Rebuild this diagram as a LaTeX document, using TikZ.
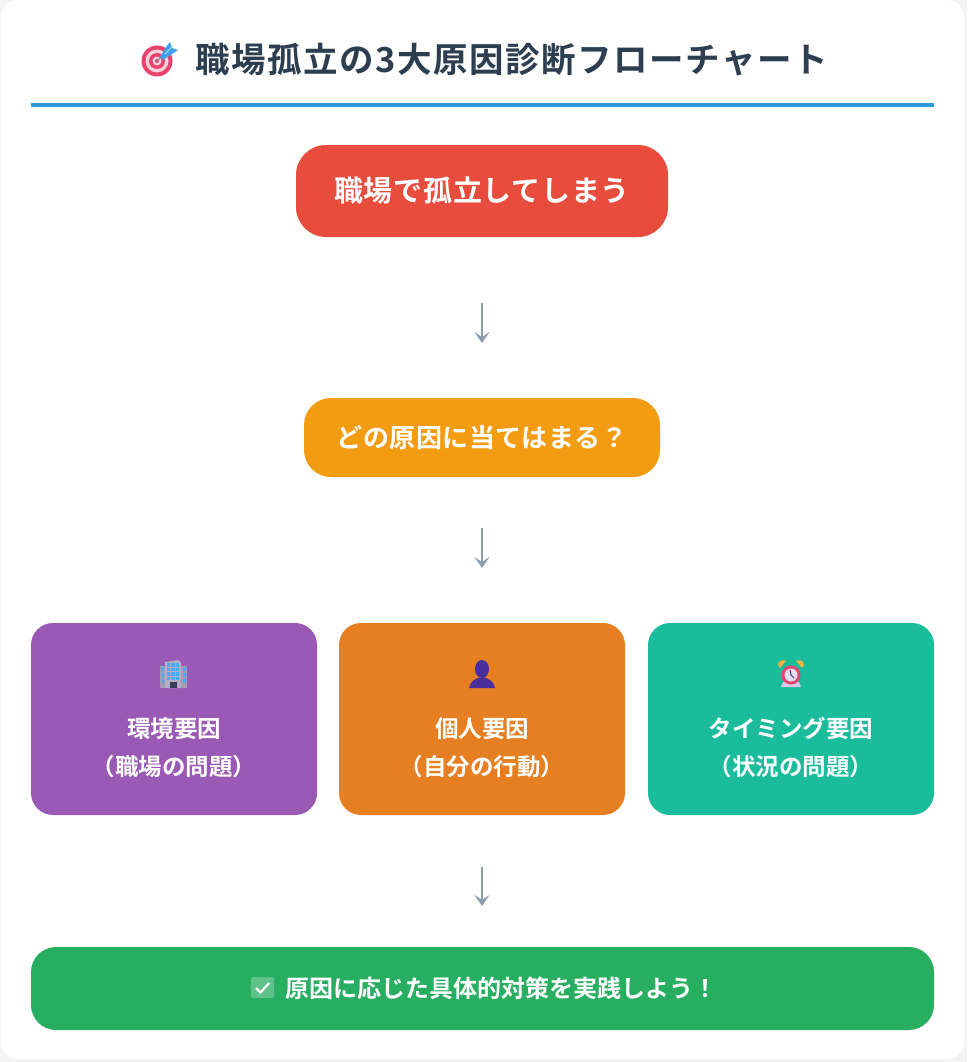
\documentclass[tikz,border=0pt]{standalone}
\usepackage{fontspec}
\setmainfont{Noto Sans CJK JP}[BoldFont={* Bold}]
\usetikzlibrary{arrows.meta}
\definecolor{pagebg}{HTML}{F4F4F4}
\definecolor{titlec}{HTML}{2C3E50}
\definecolor{linec}{HTML}{3498DB}
\definecolor{redc}{HTML}{E74C3C}
\definecolor{ambc}{HTML}{F39C12}
\definecolor{purc}{HTML}{9B59B6}
\definecolor{oranc}{HTML}{E67E22}
\definecolor{tealc}{HTML}{1ABC9C}
\definecolor{greenc}{HTML}{27AE60}
\definecolor{arrc}{HTML}{8D9DAB}
\definecolor{pinkc}{HTML}{E8436D}
\definecolor{dartc}{HTML}{3FA2EC}
\definecolor{personc}{HTML}{4A2E9B}
\definecolor{bldc}{HTML}{B4ACC4}
\definecolor{bldd}{HTML}{A39BB6}
\definecolor{winc}{HTML}{3FB0F0}
\definecolor{doorc}{HTML}{3A3A5A}
\definecolor{bellc}{HTML}{F5B041}
\definecolor{lilac}{HTML}{E6DCF0}
\definecolor{basec}{HTML}{D9C6E8}
\definecolor{handc}{HTML}{4A2E7B}
\tikzset{
  x=1pt,y=-1pt,
  boxnode/.style={draw=none,inner sep=0pt,outer sep=0pt,text=white},
  labeltxt/.style={text=white,inner sep=0pt,font=\bfseries\fontsize{23.5}{38}\selectfont,align=center},
  flowarrow/.style={draw=arrc,line width=2pt,-{Stealth[length=11pt,width=15pt,inset=5pt]}},
}
\begin{document}
\begin{tikzpicture}
\useasboundingbox (0,0) rectangle (967,1062);
\fill[pagebg] (0,0) rectangle (967,1062);
\fill[white,rounded corners=17pt] (1,0) rectangle (964,1059);
% title
\node[text=titlec,inner sep=0pt,font=\bfseries\fontsize{34.5}{38}\selectfont\addfontfeature{LetterSpace=4.5}] (title) at (511.5,59.5) {職場孤立の3大原因診断フローチャート};
% target icon
\fill[pinkc] (157,61) circle (15.5);
\fill[white!75!pinkc] (157,61) circle (11.5);
\fill[pinkc] (157,61) circle (8);
\fill[white!75!pinkc] (157,61) circle (4.5);
\fill[pinkc!70!gray] (157,61) circle (2);
\draw[gray,line width=1pt] (157,61) -- (166,52);
\fill[dartc] (160,57) -- (166,47) -- (170,42) -- (172,48) -- (178,50) -- (172,54) -- (163,60) -- cycle;
\draw[white!60!dartc,line width=.8pt] (165,54) -- (173,46);
% rule
\fill[linec] (31,103) rectangle (934,107);
% boxes
\node[boxnode,fill=redc,rounded corners=30pt,minimum width=372pt,minimum height=92pt,font=\bfseries\fontsize{29}{32}\selectfont\addfontfeature{LetterSpace=2.5}] (start) at (482,191) {\raisebox{1.5pt}{職場で孤立してしまう}};
\node[boxnode,fill=ambc,rounded corners=27pt,minimum width=356pt,minimum height=79pt,font=\bfseries\fontsize{26}{30}\selectfont\addfontfeature{LetterSpace=2}] (question) at (482,437.5) {どの原因に当てはまる？};
\node[boxnode,fill=purc,rounded corners=22pt,minimum width=286pt,minimum height=192pt] (env) at (174,719) {};
\node[boxnode,fill=oranc,rounded corners=22pt,minimum width=286pt,minimum height=192pt] (self) at (482,719) {};
\node[boxnode,fill=tealc,rounded corners=22pt,minimum width=286pt,minimum height=192pt] (timing) at (791,719) {};
\node[boxnode,fill=greenc,rounded corners=25pt,minimum width=903pt,minimum height=83pt] (action) at (482.5,988.5) {};
% labels
\node[labeltxt] (envtxt) at (174,747.5) {環境要因\\（職場の問題）};
\node[labeltxt] (selftxt) at (482,747.5) {個人要因\\（自分の行動）};
\node[labeltxt] (timtxt) at (791,747.5) {タイミング要因\\（状況の問題）};
\node[text=white,inner sep=0pt,font=\bfseries\fontsize{24}{28}\selectfont] (acttxt) at (501.5,988) {原因に応じた具体的対策を実践しよう！};
% arrows
\draw[flowarrow,shorten <=66pt,shorten >=55pt] (start) -- (start|-question.north);
\draw[flowarrow,shorten <=51pt,shorten >=55pt] (question) -- (self);
\draw[flowarrow,shorten <=52pt,shorten >=41pt] (self) -- (self|-action.north);
% building icon
\fill[bldd] (160,666) rectangle (165,688);
\fill[bldd] (180,666) rectangle (187,688);
\fill[bldc] (165,662) -- (178,660) -- (181,662) -- (181,688) -- (165,688) -- cycle;
\foreach \cx in {168.5,173,177.5}{\foreach \cy in {665,669.5,674,678.5}{\fill[winc] (\cx-1.6,\cy-1.6) rectangle (\cx+1.6,\cy+1.6);}}
\foreach \cy in {669,675,681}{\fill[winc] (183,\cy-1.6) rectangle (185.5,\cy+1.6);\fill[winc] (161.5,\cy-1.6) rectangle (163.5,\cy+1.6);}
\fill[doorc] (170,682) rectangle (177,688);
% person icon
\fill[personc] (482,669) ellipse (7 and 9);
\fill[personc] (469,688) .. controls (470,681) and (476,678) .. (482,677) .. controls (488,678) and (494,681) .. (495,688) -- cycle;
% clock icon
\fill[bellc] (778,665) .. controls (778,661) and (782,659) .. (786,661) -- (780,668) -- cycle;
\fill[bellc] (804,665) .. controls (804,661) and (800,659) .. (796,661) -- (802,668) -- cycle;
\fill[basec] (783,682) -- (799,682) -- (801,687) -- (781,687) -- cycle;
\fill[pinkc] (791,675) circle (9.5);
\fill[lilac] (791,675) circle (6.5);
\draw[handc,line width=1pt] (791,675) -- (790,670) (791,675) -- (794,678);
% check icon
\fill[white!25!greenc,rounded corners=1.5pt] (251,977) rectangle (274,998);
\draw[white,line width=2.2pt] (256,988) -- (260.5,992.5) -- (269,983);
\end{tikzpicture}
\end{document}
